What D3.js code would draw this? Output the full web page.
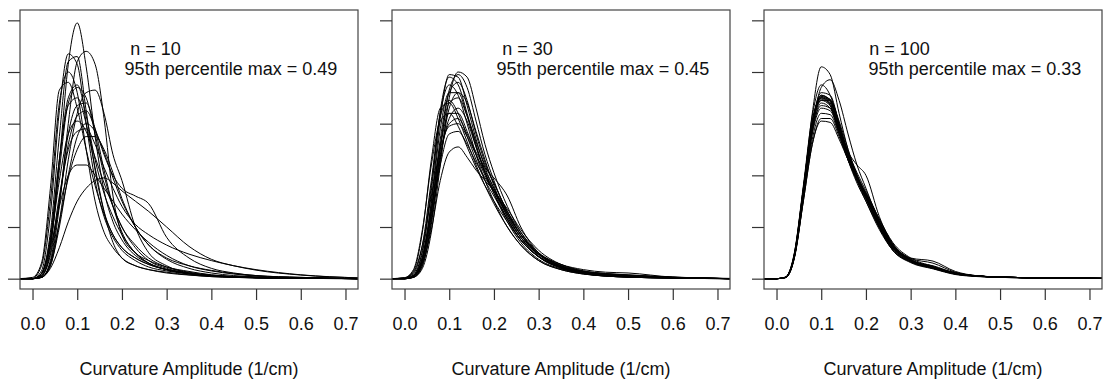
<!DOCTYPE html>
<html>
<head>
<meta charset="utf-8">
<script src="https://cdn.jsdelivr.net/npm/d3@7"></script>
<style>
  body { margin: 0; background: #fff; }
  text { font-family: "Liberation Sans", Arial, sans-serif; }
</style>
</head>
<body>
<div id="chart"></div>
<script>
// x positions shared by every density curve (1/cm)
const X_GRID = [-0.03, 0, 0.02, 0.04, 0.06, 0.08, 0.1, 0.12, 0.14, 0.16, 0.18, 0.2, 0.23, 0.26, 0.3, 0.35, 0.4, 0.45, 0.5, 0.6, 0.73]

const X_TICKS = [0, 0.1, 0.2, 0.3, 0.4, 0.5, 0.6, 0.7]
const Y_TICKS = [0, 2, 4, 6, 8, 10]

const SAMPLE_SIZES = [10, 30, 100]
const PERCENTILE_MAX = ["0.49", "0.45", "0.33"]

// density values, one row per bootstrap curve
const CURVES_N10 = [
  [0,0,0.1,1.2,4.5,8.3,9.9,8.2,5.5,3.4,2.2,1.5,0.9,0.6,0.35,0.2,0.12,0.07,0.04,0.02,0],
  [0,0,0.3,2.5,6.5,8.7,8.3,6.0,3.8,2.4,1.6,1.1,0.7,0.45,0.3,0.18,0.1,0.06,0.04,0.02,0],
  [0,0,0.2,1.8,5.5,8.4,8.6,6.5,4.2,2.6,1.7,1.2,0.8,0.55,0.35,0.2,0.12,0.08,0.05,0.02,0],
  [0,0,0.05,0.6,2.8,6.0,8.4,8.8,8.3,6.2,3.2,1.7,1.0,0.7,0.45,0.28,0.15,0.08,0.05,0.02,0],
  [0,0.05,0.6,3.5,7.3,7.6,6.6,5.0,3.6,2.5,1.7,1.2,0.8,0.55,0.35,0.2,0.12,0.07,0.04,0.02,0],
  [0,0,0.1,1.3,4.2,6.8,7.4,7.0,5.6,4.0,2.8,2.0,1.2,0.7,0.4,0.22,0.12,0.07,0.04,0.02,0],
  [0,0,0.2,1.6,4.6,7.0,7.5,6.3,4.6,3.3,2.4,1.7,1.0,0.6,0.35,0.2,0.12,0.07,0.04,0.02,0],
  [0,0,0.05,0.5,2.2,4.6,6.4,7.2,7.3,6.4,4.8,3.8,2.0,1.0,0.5,0.22,0.12,0.07,0.04,0.02,0],
  [0,0,0.2,1.4,3.8,5.6,6.1,5.7,4.7,3.7,2.8,2.0,1.3,0.8,0.45,0.25,0.14,0.08,0.05,0.02,0],
  [0,0,0.05,0.6,2.2,3.9,5.0,5.5,5.5,5.0,4.1,3.1,2.0,1.3,0.75,0.4,0.22,0.12,0.07,0.03,0],
  [0,0,0.2,1.2,2.8,4.0,4.4,4.4,4.0,3.5,3.0,2.5,1.9,1.4,0.9,0.5,0.3,0.18,0.1,0.04,0],
  [0,0,0.05,0.4,1.2,2.2,3.0,3.5,3.8,3.9,3.7,3.4,3.0,2.6,2.0,1.25,0.75,0.5,0.33,0.14,0.03],
  [0,0,0.1,0.9,3.0,5.2,6.3,6.5,5.8,4.8,4.0,3.5,3.2,2.9,1.6,0.8,0.4,0.22,0.12,0.05,0],
  [0,0,0.1,1.0,3.2,5.0,5.7,5.8,5.2,4.3,3.5,2.8,2.1,1.7,1.3,0.95,0.7,0.5,0.35,0.15,0.03],
  [0,0.02,0.5,3.0,6.8,8.0,7.2,5.0,3.0,1.8,1.2,0.8,0.5,0.35,0.22,0.14,0.08,0.05,0.03,0.01,0],
  [0,0,0.05,0.7,3.0,5.6,6.7,6.8,5.8,4.2,2.8,1.8,1.0,0.6,0.35,0.2,0.1,0.06,0.03,0.01,0],
  [0,0,0.15,1.5,4.6,6.7,7.0,6.0,4.3,2.6,1.4,0.8,0.5,0.35,0.25,0.15,0.08,0.05,0.03,0.01,0],
  [0,0,0.05,0.5,2.0,4.0,5.5,6.0,5.7,4.9,3.9,3.0,2.0,1.3,0.8,0.5,0.32,0.2,0.12,0.05,0]
]

const CURVES_N30 = [
  [0,0,0.05,0.4,1.8,4.4,7.0,8.0,7.8,6.6,5.2,4.1,2.8,1.8,0.95,0.45,0.22,0.12,0.07,0.03,0],
  [0,0,0.1,0.8,3.0,6.2,7.9,7.8,6.7,5.4,4.3,3.5,2.4,1.6,0.85,0.4,0.2,0.1,0.06,0.02,0],
  [0,0,0.12,1.0,3.4,6.5,7.8,7.5,6.4,5.2,4.1,3.3,2.2,1.4,0.75,0.38,0.2,0.12,0.08,0.03,0],
  [0,0,0.08,0.7,2.6,5.4,7.2,7.6,6.9,5.6,4.5,3.7,2.6,1.7,0.95,0.48,0.25,0.14,0.09,0.04,0],
  [0,0,0.1,0.8,2.9,5.8,7.2,7.2,6.3,5.1,4.1,3.4,2.3,1.5,0.85,0.45,0.25,0.15,0.12,0.04,0],
  [0,0.02,0.2,1.3,3.8,6.3,6.9,6.4,5.5,4.6,3.8,3.2,2.3,1.5,0.85,0.42,0.22,0.14,0.1,0.04,0],
  [0,0.03,0.3,1.8,4.6,6.6,6.8,6.2,5.3,4.4,3.6,2.9,2.0,1.3,0.7,0.35,0.18,0.1,0.06,0.02,0],
  [0,0,0.1,0.8,2.7,5.1,6.4,6.4,5.7,4.8,4.0,3.3,2.3,1.5,0.85,0.45,0.25,0.16,0.12,0.05,0],
  [0,0,0.06,0.6,2.3,4.7,6.2,6.6,6.1,5.1,4.2,3.5,2.5,1.7,0.95,0.5,0.28,0.17,0.11,0.05,0],
  [0,0,0.1,0.7,2.4,4.4,5.6,5.7,5.2,4.5,3.9,3.4,2.6,1.8,1.0,0.5,0.28,0.18,0.13,0.05,0],
  [0,0,0.1,0.6,1.9,3.8,4.9,5.1,4.7,4.2,3.8,3.4,2.7,1.9,1.1,0.55,0.3,0.2,0.15,0.06,0],
  [0,0,0.08,0.7,2.6,5.2,6.8,7.0,6.3,5.3,4.4,3.7,2.6,1.7,0.9,0.45,0.22,0.12,0.07,0.03,0],
  [0,0.01,0.15,1.1,3.6,6.4,7.5,7.1,6.0,4.8,3.8,3.0,2.0,1.3,0.7,0.35,0.18,0.1,0.06,0.02,0],
  [0,0,0.1,0.8,2.6,4.8,6.0,6.2,5.6,4.9,4.3,3.9,3.2,2.0,1.0,0.5,0.26,0.15,0.1,0.04,0],
  [0,0,0.05,0.5,2.1,4.6,6.6,7.2,6.8,5.7,4.6,3.6,2.4,1.6,0.95,0.55,0.35,0.25,0.22,0.06,0],
  [0,0.02,0.25,1.3,3.2,5.0,5.9,6.0,5.5,4.8,4.1,3.4,2.5,1.7,1.0,0.55,0.3,0.2,0.14,0.06,0.01],
  [0,0,0.06,0.5,2.2,5.0,7.3,7.9,7.4,6.1,4.8,3.8,2.5,1.6,0.85,0.42,0.2,0.1,0.06,0.02,0],
  [0,0.04,0.35,1.9,4.4,6.1,6.4,5.9,5.1,4.3,3.6,3.0,2.2,1.5,0.85,0.45,0.25,0.16,0.11,0.04,0]
]

const CURVES_N100 = [
  [0,0,0.05,0.9,3.4,6.4,8.2,7.9,6.4,5.0,4.0,3.2,2.0,1.15,0.65,0.4,0.18,0.1,0.06,0.03,0.01],
  [0,0,0.04,0.8,3.1,5.8,7.4,7.7,6.9,5.6,4.4,3.5,2.2,1.3,0.72,0.4,0.2,0.1,0.06,0.03,0.01],
  [0,0,0.06,1.0,3.6,6.3,7.5,7.1,6.0,4.8,3.9,3.1,2.0,1.2,0.7,0.42,0.2,0.1,0.06,0.03,0.01],
  [0,0,0.05,0.9,3.4,6.0,7.1,6.9,5.9,4.8,3.9,3.2,2.1,1.2,0.7,0.45,0.2,0.1,0.06,0.03,0.01],
  [0,0,0.05,0.95,3.5,6.1,7.0,6.8,5.8,4.7,3.8,3.1,2.0,1.15,0.68,0.5,0.22,0.1,0.06,0.03,0.01],
  [0,0,0.04,0.85,3.3,5.9,7.05,6.95,6.0,4.9,4.0,3.3,2.2,1.25,0.72,0.42,0.18,0.09,0.05,0.03,0.01],
  [0,0,0.05,0.9,3.4,6.0,6.95,6.75,5.7,4.6,3.8,3.2,2.2,1.3,0.78,0.6,0.25,0.1,0.06,0.03,0.01],
  [0,0,0.06,0.95,3.5,6.1,7.0,6.7,5.6,4.6,3.9,3.3,2.3,1.35,0.8,0.68,0.28,0.11,0.06,0.03,0.01],
  [0,0,0.05,0.9,3.3,5.8,6.9,6.9,6.1,5.0,4.0,3.2,2.0,1.1,0.62,0.38,0.16,0.08,0.05,0.02,0.01],
  [0,0,0.05,0.92,3.4,6.0,7.1,6.9,5.8,4.6,3.7,3.0,1.95,1.1,0.65,0.42,0.2,0.1,0.06,0.03,0.01],
  [0,0,0.05,0.85,3.1,5.4,6.4,6.35,5.6,4.7,3.9,3.3,2.2,1.3,0.75,0.45,0.22,0.11,0.06,0.03,0.01],
  [0,0,0.05,0.85,3.0,5.2,6.1,6.05,5.4,4.6,3.9,3.3,2.3,1.4,0.8,0.48,0.22,0.11,0.06,0.03,0.01],
  [0,0,0.05,0.8,3.0,5.2,6.2,6.2,5.5,4.6,3.8,3.1,2.1,1.25,0.72,0.45,0.2,0.1,0.06,0.03,0.01],
  [0,0,0.05,0.9,3.2,5.6,6.6,6.5,5.7,4.8,4.0,3.3,2.2,1.25,0.7,0.42,0.2,0.1,0.06,0.03,0.01],
  [0,0,0.05,0.85,3.2,5.7,6.8,6.6,5.7,4.9,4.4,4.0,2.4,1.3,0.72,0.44,0.2,0.1,0.06,0.03,0.01],
  [0,0,0.04,0.85,3.3,6.0,7.2,7.1,6.0,4.8,3.8,3.0,1.9,1.1,0.65,0.4,0.18,0.09,0.05,0.02,0.01],
  [0,0,0.06,1.0,3.5,6.0,6.9,6.7,5.8,4.9,4.1,3.4,2.3,1.35,0.75,0.45,0.22,0.1,0.06,0.03,0.01],
  [0,0,0.05,0.9,3.3,5.9,7.0,6.9,5.9,4.8,3.9,3.15,2.05,1.2,0.7,0.44,0.2,0.1,0.06,0.03,0.01],
  [0,0,0.05,0.88,3.25,5.7,6.7,6.6,5.8,4.8,3.95,3.25,2.15,1.22,0.7,0.46,0.22,0.1,0.06,0.03,0.01],
  [0,0,0.05,0.9,3.4,6.0,7.05,6.85,5.85,4.75,3.85,3.15,2.1,1.2,0.7,0.44,0.2,0.1,0.06,0.03,0.01]
]

const PANEL_CURVES = [CURVES_N10, CURVES_N30, CURVES_N100]

const width = 1103, height = 381
const box = {top: 10, bottom: 289, width: 338}
const panel_lefts = [20, 392, 764]
const FONT_SIZE = 18

const svg = d3.select("#chart").append("svg")
    .attr("width", width)
    .attr("height", height)

// R style axis limits: data range padded by 4% on each side
const y = d3.scaleLinear()
  .domain([-0.4, 10.4])
  .range([box.bottom, box.top])

PANEL_CURVES.forEach((curves, p) => {
  const left = panel_lefts[p]
  const x = d3.scaleLinear()
    .domain([-0.028, 0.728])
    .range([left, left + box.width])

  const g = svg.append("g").attr("class", "panel")

  g.append("clipPath")
    .attr("id", "clip" + p)
    .append("rect")
    .attr("x", left)
    .attr("y", box.top)
    .attr("width", box.width)
    .attr("height", box.bottom - box.top)

  const line = d3.line()
    .x((d, i) => x(X_GRID[i]))
    .y(d => y(d))
    .curve(d3.curveMonotoneX)

  g.append("g")
    .attr("clip-path", `url(#clip${p})`)
    .selectAll("path")
    .data(curves)
    .join("path")
      .attr("d", line)
      .attr("fill", "none")
      .attr("stroke", "#000")
      .attr("stroke-width", 1)

  g.append("rect")
    .attr("x", left)
    .attr("y", box.top)
    .attr("width", box.width)
    .attr("height", box.bottom - box.top)
    .attr("fill", "none")
    .attr("stroke", "#444")
    .attr("stroke-width", 1.2)

  const xAxis = d3.axisBottom(x)
    .tickValues(X_TICKS)
    .tickSize(11)
    .tickPadding(17)
    .tickFormat(d3.format(".1f"))

  g.append("g")
    .attr("transform", `translate(0,${box.bottom})`)
    .call(xAxis)
    .call(a => a.select(".domain").remove())
    .call(a => a.selectAll(".tick line").attr("stroke", "#333").attr("stroke-width", 1.2))
    .call(a => a.selectAll(".tick text")
      .attr("font-size", FONT_SIZE)
      .attr("font-family", "Liberation Sans, Arial, sans-serif")
      .attr("fill", "#111"))

  const yAxis = d3.axisLeft(y)
    .tickValues(Y_TICKS)
    .tickSize(12)
    .tickFormat("")

  g.append("g")
    .attr("transform", `translate(${left},0)`)
    .call(yAxis)
    .call(a => a.select(".domain").remove())
    .call(a => a.selectAll(".tick line").attr("stroke", "#333").attr("stroke-width", 1.2))

  g.append("text")
    .attr("x", left + box.width / 2)
    .attr("y", 375)
    .attr("text-anchor", "middle")
    .attr("font-size", FONT_SIZE)
    .attr("fill", "#111")
    .text("Curvature Amplitude (1/cm)")

  g.append("text")
    .attr("x", x(0.275))
    .attr("y", 55)
    .attr("text-anchor", "middle")
    .attr("font-size", FONT_SIZE)
    .attr("fill", "#111")
    .text("n = " + SAMPLE_SIZES[p])

  g.append("text")
    .attr("x", x(0.206))
    .attr("y", 74.5)
    .attr("font-size", FONT_SIZE)
    .attr("fill", "#111")
    .text("95th percentile max = " + PERCENTILE_MAX[p])
})
</script>
</body>
</html>
